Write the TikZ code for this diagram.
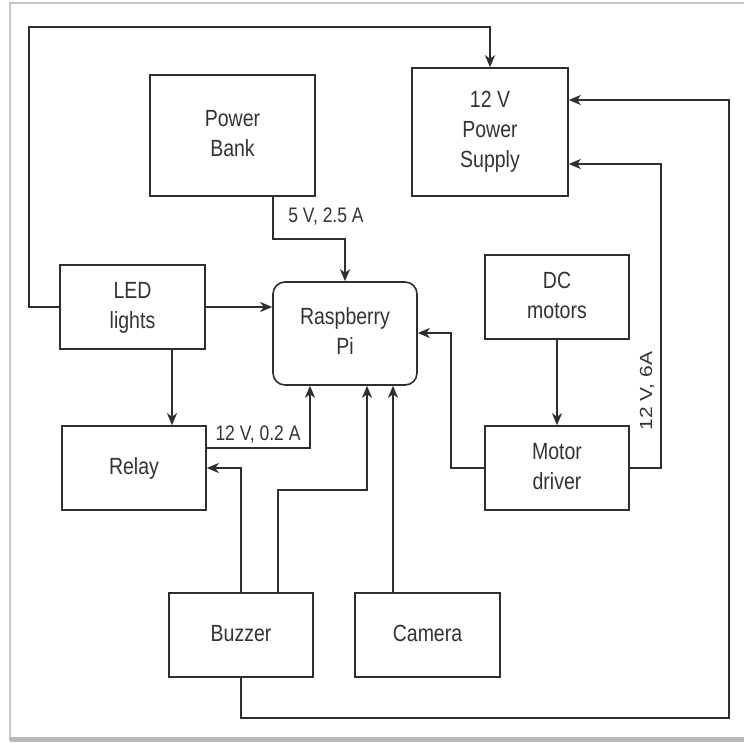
\documentclass[tikz,border=0pt]{standalone}
\usepackage{fontspec}
\setmainfont{Liberation Sans}
\usetikzlibrary{arrows.meta,calc}
\definecolor{ink}{HTML}{2E2E2E}
\definecolor{txt}{HTML}{333333}
\newcommand{\tx}[1]{\scalebox{1}[1.2]{\begin{tabular}{@{}c@{}}#1\end{tabular}}}
\begin{document}
\begin{tikzpicture}[x=1pt,y=-1pt,
  blk/.style={draw=ink,line width=1.6pt,fill=white,inner sep=0pt,text=txt,
    font=\fontsize{19.5}{25}\selectfont},
  rblk/.style={blk,rounded corners=12pt},
  arr/.style={draw=ink,line width=1.6pt,-{Stealth[length=12pt,width=10pt,inset=3.5pt]}},
  ln/.style={draw=ink,line width=1.6pt},
  lbl/.style={text=txt,inner sep=0pt,font=\fontsize{17.5}{21}\selectfont}]
\useasboundingbox (0,0) rectangle (744,746);
% frame
\draw[gray!45,line width=2pt] (10,741) -- (10,3) -- (744,3);
\fill[gray!55] (10,737) rectangle (744,742);
% blocks
\node[blk,minimum width=165pt,minimum height=121pt] (pb) at (232.5,135.5) {\tx{Power\\Bank}};
\node[blk,minimum width=156pt,minimum height=128pt] (ps) at (490,132) {\tx{12 V\\Power\\Supply}};
\node[blk,minimum width=145pt,minimum height=84pt] (led) at (132.5,307) {\tx{LED\\lights}};
\node[rblk,minimum width=144pt,minimum height=103pt] (rpi) at (345,333.5) {\tx{Raspberry\\Pi}};
\node[blk,minimum width=144pt,minimum height=84pt] (dc) at (557,297) {\tx{DC\\motors}};
\node[blk,minimum width=144pt,minimum height=84pt] (md) at (557,468) {\tx{Motor\\driver}};
\node[blk,minimum width=144pt,minimum height=84pt] (relay) at (134,468) {\tx{Relay}};
\node[blk,minimum width=144pt,minimum height=84pt] (buz) at (241,635) {\tx{Buzzer}};
\node[blk,minimum width=145pt,minimum height=84pt] (cam) at (427.5,635) {\tx{Camera}};
% helper coordinates
\coordinate (k1) at (29,27);
\coordinate (k2) at (273,239);
\coordinate (k4) at (172,0);
\coordinate (k5) at (310,448);
\coordinate (k7a) at (278,490);
\coordinate (k7b) at (367,490);
\coordinate (k8) at (393,0);
\coordinate (k10) at (451,333);
\coordinate (k11) at (661,164);
\coordinate (k12a) at (729,718);
\coordinate (k12b) at (729,100);
% connectors
\draw[arr] (led.west) -| (k1) -| (ps.north);
\draw[arr] (k2 |- pb.south) -- (k2) -| (rpi.north);
\draw[arr] (led.east) -- (led.east -| rpi.west);
\draw[arr] (led.south -| k4) -- (relay.north -| k4);
\draw[arr] (relay.east |- k5) -| (rpi.south -| k5);
\draw[arr] (buz.north) |- (relay.east);
\draw[arr] (buz.north -| k7a) -- (k7a) -- (k7b) -- (rpi.south -| k7b);
\draw[arr] (cam.north -| k8) -- (rpi.south -| k8);
\draw[arr] (dc.south) -- (md.north);
\draw[arr] (md.west) -| (k10) -- (rpi.east |- k10);
\draw[arr] (md.east) -| (k11) -- (ps.east |- k11);
\draw[arr] (buz.south) |- (k12a) -- (k12b) -- (ps.east |- k12b);
% labels
\node[lbl] (l1) at (326,217) {\scalebox{1}[1.2]{5 V, 2.5 A}};
\node[lbl] (l2) at (258,435) {\scalebox{1}[1.2]{12 V, 0.2 A}};
\node[lbl,rotate=90] (l3) at (647,391) {\scalebox{1.2}[1]{12 V, 6A}};
\end{tikzpicture}
\end{document}
